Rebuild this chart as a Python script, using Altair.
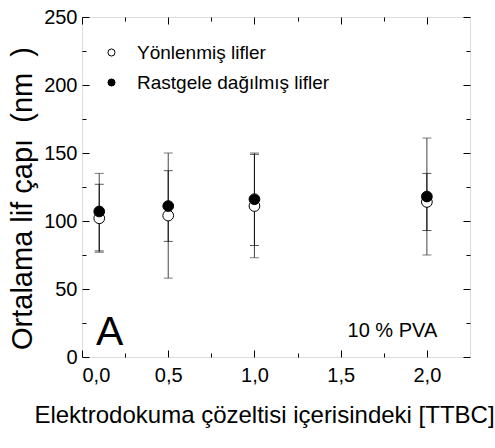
import altair as alt
import pandas as pd

# ---- data ----
conc = [0.1, 0.5, 1.0, 2.0]
open_name = "Yönlenmiş lifler"
filled_name = "Rastgele dağılmış lifler"
open_mean = [102, 104, 111, 114]
open_low = [77, 58, 73, 75]
open_high = [135, 150, 150, 161]
filled_mean = [107, 111, 116, 118]
filled_low = [78, 85, 82, 93]
filled_high = [127, 137, 149, 135]

x_label_values = [0.0, 0.5, 1.0, 1.5, 2.0]
x_tick_values = [0.0, 0.25, 0.5, 0.75, 1.0, 1.25, 1.5, 1.75, 2.0]
y_label_values = [0, 50, 100, 150, 200, 250]
y_tick_values = [0, 25, 50, 75, 100, 125, 150, 175, 200, 225, 250]

ann_letter = ["A"]
ann_letter_x = [0.16]
ann_letter_y = [9]
ann_pva = ["10 % PVA"]
ann_pva_x = [1.80]
ann_pva_y = [15]

NB = "\u00a0"
x_title = "Elektrodokuma çözeltisi içerisindeki [TTBC]"
y_title = "Ortalama lif çapı" + NB * 2 + "(nm" + NB * 2 + ")"

FONT = "Liberation Sans"
W, H = 388, 340

rows = []
for i, c in enumerate(conc):
    rows.append({"x": c, "series": open_name, "leg": open_name, "m": open_mean[i], "lo": open_low[i], "hi": open_high[i], "ord": 0})
for i, c in enumerate(conc):
    rows.append({"x": c, "series": filled_name, "leg": filled_name, "m": filled_mean[i], "lo": filled_low[i], "hi": filled_high[i], "ord": 1})
df = pd.DataFrame(rows)

xs = alt.Scale(domain=[0, 2.25], nice=False, zero=False)
ys = alt.Scale(domain=[0, 250], nice=False)

x_tick_cond = {"condition": {"test": "abs(datum.value*2 - round(datum.value*2)) < 0.001", "value": 7}, "value": 4}
y_tick_cond = {"condition": {"test": "datum.value % 50 === 0", "value": 7}, "value": 4}

def tick_axis(orient, offset, values, cond):
    return alt.Axis(orient=orient, offset=offset, values=values, labels=False, domain=False,
                    grid=False, title=None, ticks=True, tickColor="black", tickWidth=1,
                    tickSize=cond)

bar_color = alt.Color("series:N", scale=alt.Scale(domain=[open_name, filled_name], range=["#444444", "#111111"]), legend=None)

base = alt.Chart(df)

# error bar rules + label axes
rules = base.mark_rule(strokeWidth=1).encode(
    x=alt.X("x:Q", scale=xs, axis=alt.Axis(
        orient="bottom", values=x_label_values, ticks=False, tickSize=0, domain=False, grid=False,
        labelExpr="replace(format(datum.value, '.1f'), '.', ',')",
        labelFontSize=20, labelPadding=8, labelColor="black", labelFont=FONT,
        title=x_title, titleFontSize=24, titleFontWeight="normal", titleFont=FONT,
        titleColor="black", titlePadding=18, titleX=182, titleAlign="center")),
    y=alt.Y("lo:Q", scale=ys, axis=alt.Axis(
        orient="left", values=y_label_values, ticks=False, tickSize=0, domain=False, grid=False,
        labelFontSize=20, labelPadding=5, labelColor="black", labelFont=FONT,
        title=y_title, titleFontSize=29, titleFontWeight="normal", titleFont=FONT,
        titleColor="black", titlePadding=6, titleY=181, titleAlign="center")),
    y2="hi:Q",
    color=bar_color,
    order="ord:Q",
)

caps_low = base.mark_tick(orient="horizontal", size=9, thickness=1).encode(
    x=alt.X("x:Q", scale=xs, axis=tick_axis("top", -H, x_tick_values, x_tick_cond)),
    y=alt.Y("lo:Q", scale=ys, axis=tick_axis("right", -W, y_tick_values, y_tick_cond)),
    color=bar_color,
)

caps_high = base.mark_tick(orient="horizontal", size=9, thickness=1).encode(
    x=alt.X("x:Q", scale=xs, axis=tick_axis("bottom", -H, x_tick_values, x_tick_cond)),
    y=alt.Y("hi:Q", scale=ys, axis=tick_axis("left", -W, y_tick_values, y_tick_cond)),
    color=bar_color,
)

points = base.mark_circle(size=115, stroke="black", strokeWidth=1, opacity=1).encode(
    x=alt.X("x:Q", scale=xs, axis=None),
    y=alt.Y("m:Q", scale=ys, axis=None),
    fill=alt.Fill("leg:N", scale=alt.Scale(domain=[open_name, filled_name], range=["white", "black"]),
                  legend=alt.Legend(orient="none", legendX=20, legendY=26, title=None,
                                    symbolType="circle", symbolSize=50, symbolStrokeColor="black",
                                    symbolStrokeWidth=1, labelFontSize=19, labelFont=FONT,
                                    labelColor="black", labelOffset=16, rowPadding=10, padding=0,
                                    labelLimit=400, symbolOpacity=1)),
    order="ord:Q",
)

letter = alt.Chart(pd.DataFrame({"t": ann_letter, "x": ann_letter_x, "y": ann_letter_y})).mark_text(
    fontSize=41, font=FONT, color="black", align="center", baseline="alphabetic").encode(
    x=alt.X("x:Q", scale=xs, axis=None), y=alt.Y("y:Q", scale=ys, axis=None), text="t:N")

pva = alt.Chart(pd.DataFrame({"t": ann_pva, "x": ann_pva_x, "y": ann_pva_y})).mark_text(
    fontSize=20, font=FONT, color="black", align="center", baseline="alphabetic").encode(
    x=alt.X("x:Q", scale=xs, axis=None), y=alt.Y("y:Q", scale=ys, axis=None), text="t:N")

chart = alt.layer(rules, caps_low, caps_high, points, letter, pva).resolve_axis(
    x="independent", y="independent"
).resolve_legend(color="independent", fill="independent").properties(
    width=W, height=H,
    autosize=alt.AutoSizeParams(type="none"),
    padding={"left": 82, "top": 17, "right": 25, "bottom": 91},
).configure_view(stroke="black", strokeWidth=1.5).configure(font=FONT, background="white")

chart.save("out.html", embed_options={"renderer": "svg", "actions": False})
